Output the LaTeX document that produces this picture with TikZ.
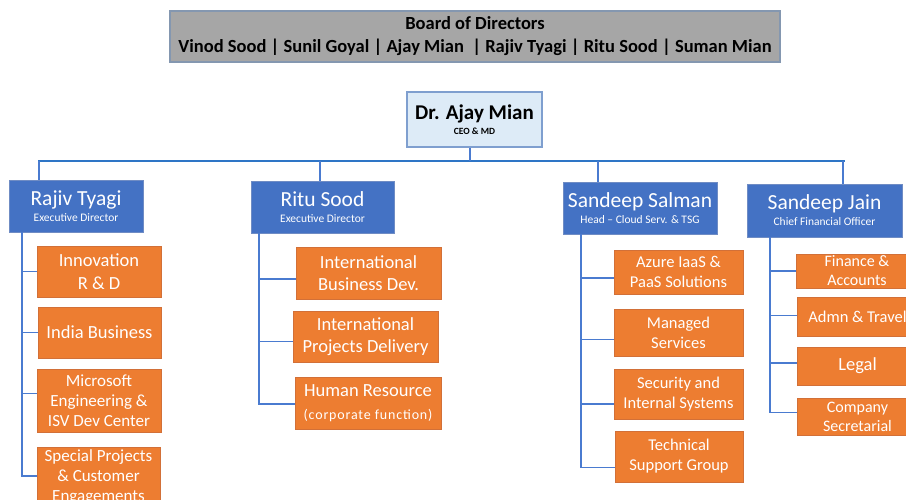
\documentclass[tikz,border=0pt]{standalone}
\usepackage{fontspec}
\setmainfont{Carlito}
\usetikzlibrary{positioning,calc}

\definecolor{boardgray}{HTML}{A6A6A6}
\definecolor{boardline}{HTML}{8497B0}
\definecolor{ceofill}{HTML}{DDEBF7}
\definecolor{ceoline}{HTML}{7F9FCF}
\definecolor{dirblue}{HTML}{4472C4}
\definecolor{dirline}{HTML}{6F8CC4}
\definecolor{unitorange}{HTML}{ED7D31}
\definecolor{unitline}{HTML}{D27038}
\definecolor{linkblue}{HTML}{4A7BD0}
\definecolor{busblue}{HTML}{2E75C6}

\newcommand{\dirtext}[2]{{\fontsize{21.5}{23}\selectfont #1}\\[4pt]{\fontsize{11.5}{14}\selectfont #2}}

\begin{document}
\begin{tikzpicture}[x=1pt, y=-1pt,
  boardbox/.style={draw=boardline, fill=boardgray, line width=1.2pt, align=center, inner sep=0pt,
    font=\fontsize{18.5}{23}\selectfont\bfseries},
  ceobox/.style={draw=ceoline, fill=ceofill, line width=1.2pt, align=center, inner sep=0pt},
  dirbox/.style={draw=dirline, fill=dirblue, text=white, line width=1pt, align=center, inner sep=0pt},
  unitbox/.style={draw=unitline, fill=unitorange, text=white, line width=1pt, align=center, inner sep=0pt,
    font=\fontsize{18.5}{22.5}\selectfont},
  smallunit/.style={unitbox, font=\fontsize{16.5}{20}\selectfont},
  link/.style={draw=linkblue, line width=1.8pt},
  bus/.style={draw=busblue, line width=2.6pt}]
\useasboundingbox (0,0) rectangle (906,499);
\clip (0,0) rectangle (906,499);

% board
\node[boardbox, minimum width=610pt, minimum height=51pt] (board) at (475,36.5)
  {Board of Directors\\Vinod Sood | Sunil Goyal | Ajay Mian ~| Rajiv Tyagi | Ritu Sood | Suman Mian};

% ceo
\node[ceobox, minimum width=135pt, minimum height=55pt] (ceo) at (474.5,119.5)
  {{\fontsize{21}{23}\selectfont\bfseries Dr. Ajay Mian}\\[3pt]{\fontsize{9.5}{12}\selectfont\bfseries CEO \& MD}};

% directors
\node[dirbox, minimum width=134pt, minimum height=52pt] (rajiv) at (76,206) {\dirtext{Rajiv Tyagi}{Executive Director}};
\node[dirbox, minimum width=143pt, minimum height=52pt] (ritu) at (322.5,207) {\dirtext{Ritu Sood}{Executive Director}};
\node[dirbox, minimum width=154pt, minimum height=52pt] (salman) at (640,208) {\dirtext{Sandeep Salman}{Head -- Cloud Serv. \& TSG}};
\node[dirbox, minimum width=155pt, minimum height=53pt] (jain) at (824.5,210.5) {\dirtext{Sandeep Jain}{Chief Financial Officer}};

% units under Rajiv Tyagi
\node[unitbox, minimum width=124pt, minimum height=51pt] (inno) at (99,271.5) {Innovation\\R \& D};
\node[unitbox, minimum width=123pt, minimum height=51pt] (india) at (99.5,332.5) {India Business};
\node[unitbox, minimum width=124pt, minimum height=63pt, font=\fontsize{17}{20}\selectfont] (msft) at (99,400.5) {Microsoft\\Engineering \&\\ISV Dev Center};
\node[unitbox, minimum width=123pt, minimum height=60pt, font=\fontsize{17}{20}\selectfont] (special) at (98.5,477) {Special Projects\\\& Customer\\Engagements};

% units under Ritu Sood
\node[unitbox, minimum width=145pt, minimum height=52pt] (ibd) at (368.5,273) {International\\Business Dev.};
\node[unitbox, minimum width=145pt, minimum height=51pt] (ipd) at (365.5,336.5) {International\\Projects Delivery};
\node[unitbox, minimum width=146pt, minimum height=52pt] (hr) at (368,403)
  {Human Resource\\{\fontsize{14}{17}\selectfont\addfontfeatures{LetterSpace=6}(corporate function)}};

% units under Sandeep Salman
\node[smallunit, minimum width=129pt, minimum height=44pt] (azure) at (678.5,272) {Azure IaaS \&\\PaaS Solutions};
\node[smallunit, minimum width=129pt, minimum height=47pt] (managed) at (678.5,332.5) {Managed\\Services};
\node[smallunit, minimum width=129pt, minimum height=50pt] (security) at (678.5,394) {Security and\\Internal Systems};
\node[smallunit, minimum width=128pt, minimum height=51pt] (tech) at (679,456.5) {Technical\\Support Group};

% units under Sandeep Jain
\node[smallunit, minimum width=122pt, minimum height=34pt, font=\fontsize{16}{19}\selectfont] (fin) at (857,271) {Finance \&\\Accounts};
\node[smallunit, minimum width=121pt, minimum height=39pt] (admn) at (857.5,316.5) {Admn \& Travel};
\node[unitbox, minimum width=121pt, minimum height=38pt] (legal) at (857.5,366) {Legal};
\node[smallunit, minimum width=121pt, minimum height=37pt, font=\fontsize{16}{19}\selectfont] (company) at (857.5,416.5) {Company\\Secretarial};

% bus
\coordinate (busL) at (38,161);
\coordinate (busR) at (845,161);
\draw[bus] (busL) -- (busR);
\draw[link] ([xshift=-4.5pt]ceo.south) -- ([xshift=-4.5pt]ceo.south |- busL);

% drops to directors
\coordinate (d1) at (39,161);
\coordinate (d2) at (320,161);
\coordinate (d3) at (598,161);
\coordinate (d4) at (843,161);
\draw[link] (d1) -- (d1 |- rajiv.north);
\draw[link] (d2) -- (d2 |- ritu.north);
\draw[link] (d3) -- (d3 |- salman.north);
\draw[link] (d4) -- (d4 |- jain.north);

% spines to units
\coordinate (s1) at (22,232);
\coordinate (s2) at (259,233);
\coordinate (s3) at (581,234);
\coordinate (s4) at (770,237);
\foreach \u/\dy in {inno/0, india/0, msft/7, special/1}
  \draw[link] (s1) |- ([yshift=\dy pt]\u.west);
\foreach \u/\dy in {ibd/-6, ipd/-5, hr/-1}
  \draw[link] (s2) |- ([yshift=\dy pt]\u.west);
\foreach \u/\dy in {azure/-6, managed/-7, security/-10, tech/-11}
  \draw[link] (s3) |- ([yshift=\dy pt]\u.west);
\foreach \u/\dy in {fin/0, admn/1, legal/3, company/4}
  \draw[link] (s4) |- ([yshift=\dy pt]\u.west);
\end{tikzpicture}
\end{document}
